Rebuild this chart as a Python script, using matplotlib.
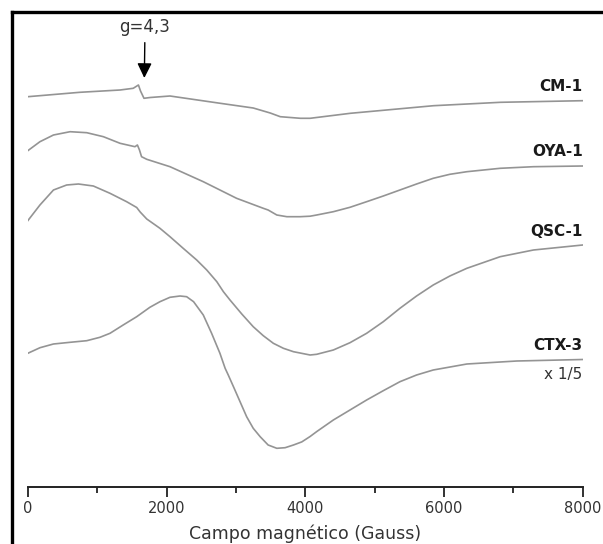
import matplotlib
matplotlib.use("Agg")
import matplotlib.pyplot as plt
from matplotlib.lines import Line2D
from matplotlib.ticker import MultipleLocator

plt.rcParams['font.family'] = ['DejaVu Sans']

# ---- data (field in Gauss, intensity in arbitrary units) ----
labels = ["CM-1", "OYA-1", "QSC-1", "CTX-3"]
offsets = [447.3, 393.3, 323.3, 190.7]

cm1_field = [0, 750, 1330, 1520, 1595, 1625, 1675, 1765, 2050, 2775, 3250, 3495,
             3640, 3930, 4070, 4650, 5850, 6815, 8000]
cm1_int = [0, 4.4, 6.7, 8.4, 11.7, 5.7, -1.6, -0.8, 0.7, -6.6, -11.3, -16.3,
           -20.0, -21.6, -21.6, -16.6, -9.0, -5.6, -4.0]

oya1_field = [0, 175, 370, 610, 850, 1090, 1330, 1545, 1580, 1610, 1640, 1715, 2050,
              2530, 3010, 3395, 3465, 3590, 3735, 3925, 4070, 4165, 4405, 4645, 4885,
              5125, 5365, 5605, 5845, 6085, 6330, 6810, 7290, 8000]
oya1_int = [0, 9, 15.7, 19, 18, 14, 7.4, 4, 5.7, 0.7, -6, -8.6, -16, -31, -47.6,
            -57.6, -59.3, -64.3, -66, -66, -65.5, -64.3, -61, -56.6, -51, -45.3,
            -39.3, -33.3, -27.6, -23.6, -21, -17.6, -16, -15.3]

qsc1_field = [0, 175, 370, 560, 730, 945, 1185, 1425, 1570, 1620, 1715, 1905, 2050,
              2240, 2435, 2580, 2725, 2820, 2915, 3085, 3250, 3395, 3540, 3685, 3830,
              4070, 4165, 4405, 4645, 4885, 5125, 5365, 5605, 5845, 6085, 6330, 6810,
              7290, 8000]
qsc1_int = [0, 15.7, 30.7, 35.7, 36.7, 34.7, 27.4, 19, 13.2, 8.7, 1.7, -7.6, -16,
            -27.6, -39.3, -49.3, -61, -71, -79.3, -93.3, -106, -115, -122.6, -127.6,
            -131, -134.3, -133.6, -129.3, -122, -112.6, -101, -87.6, -75.3, -64.3,
            -55.3, -47.6, -36, -29.3, -24.3]

ctx3_field = [0, 176, 370, 610, 850, 1040, 1185, 1375, 1570, 1760, 1905, 2050, 2195,
              2290, 2390, 2530, 2650, 2770, 2845, 2890, 2965, 3060, 3155, 3250, 3350,
              3465, 3590, 3710, 3830, 3950, 4070, 4165, 4405, 4645, 4885, 5125, 5365,
              5605, 5845, 6330, 7050, 8000]
ctx3_int = [0, 5.6, 9.3, 11, 12.6, 16, 20, 28.3, 36.6, 46, 51.6, 56, 57.3, 56.6,
            51.6, 38.3, 20, 0, -15, -21.7, -33.4, -48.4, -63.4, -75, -83.4, -91.7,
            -95, -94.4, -91.7, -88.6, -83.2, -78.3, -66.7, -56.7, -46.7, -37.4,
            -28.4, -21.7, -16.7, -10.7, -7.7, -6.2]

fields = [cm1_field, oya1_field, qsc1_field, ctx3_field]
intensities = [cm1_int, oya1_int, qsc1_int, ctx3_int]

xticks = [0, 2000, 4000, 6000, 8000]
g_field = 1680
g_label = "g=4,3"
scale_note = "x 1/5"

# ---- figure ----
W, H = 603, 544
fig = plt.figure(figsize=(W / 100, H / 100), dpi=100)
ax = fig.add_axes([27.8 / W, (H - 487) / H, 554.9 / W, 475 / H])

line_color = "#949494"
for f, inten, off, lab in zip(fields, intensities, offsets, labels):
    y = [off + v for v in inten]
    ax.plot(f, y, color=line_color, lw=1.2, solid_joinstyle="round")
    ax.text(f[-1], y[-1] + 14, lab, ha="right", va="center", fontsize=11,
            fontweight="bold", color="#1a1a1a")
    if lab == "CTX-3":
        ax.text(f[-1], y[-1] - 15.5, scale_note, ha="right", va="center",
                fontsize=11, color="#333333")

ax.set_xlim(0, 8000)
ax.set_ylim(57, 532)

# g = 4.3 arrow
ax.annotate(g_label, xy=(g_field, 544 - 78), xytext=(g_field + 10, 544 - 26.7),
            ha="center", va="center", fontsize=12, color="#333333",
            arrowprops=dict(arrowstyle="-|>,head_length=0.45,head_width=0.22",
                            color="black", lw=1.0, mutation_scale=20,
                            shrinkA=3, shrinkB=0),
            annotation_clip=False)

for s in ["left", "right", "top"]:
    ax.spines[s].set_visible(False)
ax.spines["bottom"].set_linewidth(1.4)
ax.spines["bottom"].set_color("#222222")
ax.set_yticks([])
ax.set_xticks(xticks)
ax.set_xticklabels([str(t) for t in xticks])
ax.xaxis.set_minor_locator(MultipleLocator(1000))
ax.tick_params(axis="x", which="major", length=7, width=1.3, pad=3,
               labelsize=10.5, colors="#222222", labelcolor="#333333")
ax.tick_params(axis="x", which="minor", length=4, width=1.3, colors="#222222")
ax.set_xlabel("Campo magnético (Gauss)", fontsize=12.5, color="#333333", labelpad=6)

# outer frame (left and top edges visible in reference)
fx = 11.5 / W
fy = (H - 12) / H
fig.add_artist(Line2D([fx, fx], [0, fy], transform=fig.transFigure,
                      color="black", lw=2.4))
fig.add_artist(Line2D([fx, 1.01], [fy, fy], transform=fig.transFigure,
                      color="black", lw=2.4))

fig.savefig("out.png", dpi=100)
